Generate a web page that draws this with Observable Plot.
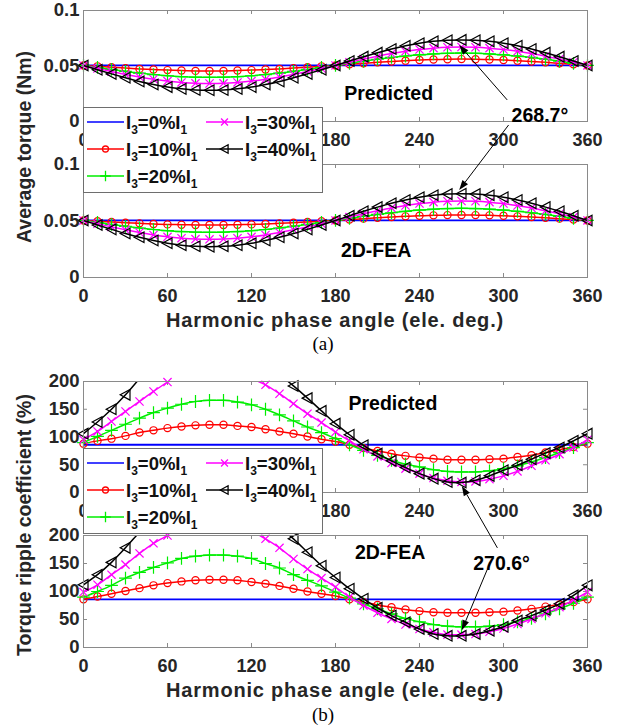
<!DOCTYPE html>
<html><head><meta charset="utf-8">
<script src="https://cdn.jsdelivr.net/npm/d3@7"></script>
<script src="https://cdn.jsdelivr.net/npm/@observablehq/plot@0.6"></script>
<style>
body{margin:0;background:#fff;}
#wrap{position:relative;width:618px;height:725px;overflow:hidden;font-family:"Liberation Sans",Arial,sans-serif;}
.abs{position:absolute;}
.xt{font-weight:bold;font-size:20px;letter-spacing:0.8px;color:#262626;white-space:nowrap;transform:translate(-50%,-50%);}
.yt{font-weight:bold;font-size:19.5px;color:#262626;white-space:nowrap;transform:translate(-50%,-50%) rotate(-90deg);}
.sub{font-family:"Liberation Serif","Times New Roman",serif;font-size:19px;color:#000;white-space:nowrap;transform:translate(-50%,-50%);}
</style></head><body><div id="wrap"></div>
<script>
// ---------- data ----------
const angles = [0,10,20,30,40,50,60,70,80,90,100,110,120,130,140,150,160,170,180,190,200,210,220,230,240,250,260,270,280,290,300,310,320,330,340,350,360];
const seriesPct = ["0","10","20","30","40"];
const xTicks = [0,60,120,180,240,300,360];
const xTicksUnderLegend = [60,120];
const torqueTicks = [0,0.05,0.1];
const torqueTickLabels = ["0","0.05","0.1"];
const rippleTicks = [0,50,100,150,200];
const rippleTickLabels = ["0","50","100","150","200"];

// average torque, predicted (Nm)
const torquePred0 = [0.0505,0.0505,0.0505,0.0505,0.0505,0.0505,0.0505,0.0505,0.0505,0.0505,0.0505,0.0505,0.0505,0.0505,0.0505,0.0505,0.0505,0.0505,0.0505,0.0505,0.0505,0.0505,0.0505,0.0505,0.0505,0.0505,0.0505,0.0505,0.0505,0.0505,0.0505,0.0505,0.0505,0.0505,0.0505,0.0505,0.0505];
const torquePred10 = [0.0505,0.0497,0.0489,0.0481,0.0474,0.0468,0.0463,0.0459,0.0456,0.0455,0.0456,0.0459,0.0463,0.0468,0.0474,0.0481,0.0489,0.0497,0.0505,0.0515,0.0524,0.0533,0.0541,0.0548,0.0554,0.0558,0.0561,0.0562,0.0561,0.0558,0.0554,0.0548,0.0541,0.0533,0.0524,0.0515,0.0505];
const torquePred20 = [0.0505,0.0487,0.0469,0.0452,0.0436,0.0423,0.0412,0.0404,0.0399,0.0398,0.0399,0.0404,0.0412,0.0423,0.0436,0.0452,0.0469,0.0487,0.0505,0.0524,0.0543,0.0561,0.0577,0.0590,0.0601,0.0609,0.0614,0.0616,0.0614,0.0609,0.0601,0.0590,0.0577,0.0561,0.0543,0.0524,0.0505];
const torquePred30 = [0.0505,0.0477,0.0450,0.0424,0.0401,0.0381,0.0364,0.0352,0.0344,0.0342,0.0344,0.0352,0.0364,0.0381,0.0401,0.0424,0.0450,0.0477,0.0505,0.0534,0.0562,0.0588,0.0612,0.0632,0.0649,0.0661,0.0669,0.0671,0.0669,0.0661,0.0649,0.0632,0.0612,0.0588,0.0562,0.0534,0.0505];
const torquePred40 = [0.0505,0.0466,0.0429,0.0394,0.0361,0.0333,0.0310,0.0294,0.0284,0.0281,0.0284,0.0294,0.0310,0.0333,0.0361,0.0394,0.0429,0.0466,0.0505,0.0545,0.0584,0.0620,0.0653,0.0682,0.0705,0.0722,0.0732,0.0735,0.0732,0.0722,0.0705,0.0682,0.0653,0.0620,0.0584,0.0545,0.0505];

// average torque, 2D-FEA (Nm)
const torqueFea0 = [0.0505,0.0505,0.0505,0.0505,0.0505,0.0505,0.0505,0.0505,0.0505,0.0505,0.0505,0.0505,0.0505,0.0505,0.0505,0.0505,0.0505,0.0505,0.0505,0.0505,0.0505,0.0505,0.0505,0.0505,0.0505,0.0505,0.0505,0.0505,0.0505,0.0505,0.0505,0.0505,0.0505,0.0505,0.0505,0.0505,0.0505];
const torqueFea10 = [0.0505,0.0498,0.0491,0.0485,0.0479,0.0474,0.0470,0.0467,0.0465,0.0465,0.0465,0.0467,0.0470,0.0474,0.0479,0.0485,0.0491,0.0498,0.0505,0.0513,0.0521,0.0528,0.0535,0.0541,0.0546,0.0550,0.0552,0.0553,0.0552,0.0550,0.0546,0.0541,0.0535,0.0528,0.0521,0.0513,0.0505];
const torqueFea20 = [0.0505,0.0487,0.0470,0.0453,0.0438,0.0425,0.0414,0.0406,0.0401,0.0400,0.0401,0.0406,0.0414,0.0425,0.0438,0.0453,0.0470,0.0487,0.0505,0.0523,0.0541,0.0558,0.0573,0.0586,0.0597,0.0605,0.0610,0.0612,0.0610,0.0605,0.0597,0.0586,0.0573,0.0558,0.0541,0.0523,0.0505];
const torqueFea30 = [0.0505,0.0476,0.0448,0.0422,0.0398,0.0377,0.0360,0.0348,0.0340,0.0338,0.0340,0.0348,0.0360,0.0377,0.0398,0.0422,0.0448,0.0476,0.0505,0.0535,0.0564,0.0591,0.0616,0.0637,0.0654,0.0667,0.0675,0.0677,0.0675,0.0667,0.0654,0.0637,0.0616,0.0591,0.0564,0.0535,0.0505];
const torqueFea40 = [0.0505,0.0465,0.0426,0.0389,0.0356,0.0327,0.0303,0.0286,0.0276,0.0273,0.0276,0.0286,0.0303,0.0327,0.0356,0.0389,0.0426,0.0465,0.0505,0.0546,0.0586,0.0623,0.0657,0.0686,0.0710,0.0728,0.0738,0.0741,0.0738,0.0728,0.0710,0.0686,0.0657,0.0623,0.0586,0.0546,0.0505];

// torque ripple coefficient, predicted (%)
const ripplePred0 = [86,86,86,86,86,86,86,86,86,86,86,86,86,86,86,86,86,86,86,86,86,86,86,86,86,86,86,86,86,86,86,86,86,86,86,86,86];
const ripplePred10 = [88,93,97,102,108,112,116,119,121,122,122,120,118,114,110,106,101,96,92,86,80,75,70,66,63,61,59,59,59,60,61,64,67,72,77,82,88];
const ripplePred20 = [90,101,112,123,134,144,152,159,164,166,166,163,158,150,140,129,118,108,97,86,76,67,58,51,46,41,38,37,37,39,43,48,55,63,72,81,90];
const ripplePred30 = [95,110,128,146,164,182,199,212,220,224,222,215,205,194,178,160,142,126,109,93,78,65,53,43,34,26,21,19,20,24,30,38,48,58,69,81,95];
const ripplePred40 = [106,127,150,176,205,232,255,272,282,285,282,272,255,235,213,192,170,147,124,104,85,70,57,45,34,25,19,18,22,30,40,49,60,71,81,93,106];

// torque ripple coefficient, 2D-FEA (%)
const rippleFea0 = [86,86,86,86,86,86,86,86,86,86,86,86,86,86,86,86,86,86,86,86,86,86,86,86,86,86,86,86,86,86,86,86,86,86,86,86,86];
const rippleFea10 = [86,91,96,101,106,111,115,118,120,121,121,120,117,114,110,105,100,96,92,86,81,76,72,68,65,63,62,62,62,63,64,66,69,73,77,81,86];
const rippleFea20 = [90,100,111,124,134,143,151,159,163,165,165,163,159,150,142,130,120,110,99,88,78,69,60,52,46,41,38,37,37,38,41,46,52,60,69,79,90];
const rippleFea30 = [99,112,130,148,168,186,200,214,223,227,225,218,208,194,178,158,140,124,108,90,75,62,51,41,33,27,23,23,24,28,34,42,51,61,72,85,99];
const rippleFea40 = [112,130,152,178,206,233,256,273,283,286,283,273,256,236,215,194,170,146,125,105,87,71,57,45,33,24,21,21,24,30,37,48,57,67,78,93,111];

// annotations (data coordinates)
const panelTexts = {
  p1: [{x: 218, y: 0.0250, t: "Predicted"}, {x: 326, y: 0.0053, t: "268.7°"}],
  p2: [{x: 209, y: 0.0240, t: "2D-FEA"}],
  p3: [{x: 221, y: 160, t: "Predicted"}],
  p4: [{x: 219, y: 169, t: "2D-FEA"}, {x: 298.6, y: 150, t: "270.6°"}]
};
const arrowsSpec = [
  {fp: "p1", fx: 303, fy: 0.019, tp: "p1", tx: 268.7, ty: 0.0685},
  {fp: "p1", fx: 304, fy: -0.0036, tp: "p2", tx: 268.7, ty: 0.0770},
  {fp: "p4", fx: 296, fy: 177, tp: "p3", tx: 270.6, ty: 11},
  {fp: "p4", fx: 288.6, fy: 137.5, tp: "p4", tx: 270.6, ty: 30}
];

// ---------- styles ----------
const colors = ["#0000ff", "#ff0000", "#00ee00", "#ff00ff", "#000000"];
const frameColor = "#8a8a8a";
const triLeft = {draw(ctx, size) { const r = Math.sqrt(size / Math.PI); ctx.moveTo(-r, 0); ctx.lineTo(r * 0.85, -r); ctx.lineTo(r * 0.85, r); ctx.closePath(); }};
const symbols = [null, "circle", "plus", "times", triLeft];
const radii = [0, 3.6, 4.2, 3.8, 5.3];

const wrap = document.getElementById("wrap");
const W = 618, mL = 83, mR = 31;

function makePanel(cfg) {
  const plotW = W - mL - mR;
  const plotH = cfg.height - cfg.mTop - cfg.mBottom;
  const marks = [];
  const innerX = xTicks.slice(1, -1);
  const innerY = cfg.yTicks.slice(1, -1);
  marks.push(Plot.ruleX(innerX, {x: d => d, insetTop: plotH - 4, stroke: frameColor}));
  marks.push(Plot.ruleX(innerX, {x: d => d, insetBottom: plotH - 4, stroke: frameColor}));
  marks.push(Plot.ruleY(innerY, {y: d => d, insetRight: plotW - 4, stroke: frameColor}));
  marks.push(Plot.ruleY(innerY, {y: d => d, insetLeft: plotW - 4, stroke: frameColor}));
  cfg.series.forEach((vals, k) => {
    const data = vals.map((v, i) => ({x: angles[i], y: v}));
    marks.push(Plot.line(data, {x: "x", y: "y", stroke: colors[k], strokeWidth: k === 0 ? 1.8 : 1.5, curve: "catmull-rom", clip: true}));
    if (symbols[k]) {
      marks.push(Plot.dot(data.filter(d => d.y <= cfg.yDomain[1]), {x: "x", y: "y", symbol: symbols[k], r: radii[k], stroke: colors[k], fill: "none", strokeWidth: 1.2}));
    }
  });
  marks.push(Plot.frame({stroke: frameColor, strokeWidth: 1}));
  const labelTicks = cfg.legendBelow ? xTicks.filter(t => !xTicksUnderLegend.includes(t)) : xTicks;
  marks.push(Plot.axisX({ticks: labelTicks, label: null, tickSize: 0, tickPadding: 12, tickFormat: d => String(d), fontSize: 18, fontWeight: "bold"}));
  marks.push(Plot.axisY({ticks: cfg.yTicks, label: null, tickSize: 0, tickPadding: 4, tickFormat: d => cfg.yLabels[cfg.yTicks.indexOf(d)], fontSize: 18.5, fontWeight: "bold"}));
  marks.push(Plot.text(cfg.texts, {x: "x", y: "y", text: "t", fontSize: 19.5, fontWeight: "bold", fill: "#000"}));
  const fig = Plot.plot({
    width: W, height: cfg.height,
    marginLeft: mL, marginRight: mR, marginTop: cfg.mTop, marginBottom: cfg.mBottom,
    x: {domain: [0, 360], label: null},
    y: {domain: cfg.yDomain, label: null},
    style: {background: "transparent", overflow: "visible", color: "#262626", fontFamily: "'Liberation Sans', Arial, sans-serif", fontSize: "18px", fontWeight: "bold"},
    marks
  });
  fig.style.position = "absolute";
  fig.style.left = "0px";
  fig.style.top = cfg.top + "px";
  wrap.appendChild(fig);
  return {fig, top: cfg.top, x: fig.scale("x"), y: fig.scale("y")};
}

const panels = {};
panels.p1 = makePanel({top: 0, height: 151, mTop: 10, mBottom: 30, yDomain: [0, 0.1], yTicks: torqueTicks, yLabels: torqueTickLabels, legendBelow: true,
  series: [torquePred0, torquePred10, torquePred20, torquePred30, torquePred40], texts: panelTexts.p1});
panels.p2 = makePanel({top: 150, height: 157, mTop: 14, mBottom: 30, yDomain: [0, 0.1], yTicks: torqueTicks, yLabels: torqueTickLabels,
  series: [torqueFea0, torqueFea10, torqueFea20, torqueFea30, torqueFea40], texts: panelTexts.p2});
panels.p3 = makePanel({top: 360, height: 162, mTop: 21, mBottom: 30, yDomain: [0, 200], yTicks: rippleTicks, yLabels: rippleTickLabels, legendBelow: true,
  series: [ripplePred0, ripplePred10, ripplePred20, ripplePred30, ripplePred40], texts: panelTexts.p3});
panels.p4 = makePanel({top: 521, height: 156, mTop: 14, mBottom: 30, yDomain: [0, 200], yTicks: rippleTicks, yLabels: rippleTickLabels,
  series: [rippleFea0, rippleFea10, rippleFea20, rippleFea30, rippleFea40], texts: panelTexts.p4});

// ---------- legends ----------
function addLegend(top) {
  const svg = d3.create("svg").attr("width", 241).attr("height", 87)
    .style("position", "absolute").style("left", "83px").style("top", top + "px");
  svg.append("rect").attr("x", 0.5).attr("y", 0.5).attr("width", 239).attr("height", 85)
    .attr("fill", "#fff").attr("stroke", "#6e6e6e");
  const slots = [[4, 15], [4, 42], [4, 69], [123, 15], [123, 42]];
  const lsym = [null, d3.symbolCircle, d3.symbolPlus, d3.symbolTimes, triLeft];
  const lr = [0, 3, 3.5, 3.2, 4.2];
  seriesPct.forEach((p, k) => {
    const [x0, y0] = slots[k];
    const g = svg.append("g").attr("transform", `translate(${x0},${y0})`);
    g.append("line").attr("x1", 0).attr("x2", 37).attr("y1", 0).attr("y2", 0).attr("stroke", colors[k]).attr("stroke-width", 1.6);
    if (lsym[k]) {
      g.append("path").attr("transform", "translate(18.5,0)")
        .attr("d", d3.symbol(lsym[k], Math.PI * lr[k] * lr[k])())
        .attr("fill", "none").attr("stroke", colors[k]).attr("stroke-width", 1.3);
    }
    const t = g.append("text").attr("x", 39).attr("y", 7)
      .attr("font-family", "'Liberation Sans', Arial, sans-serif").attr("font-weight", "bold").attr("font-size", 18.5).attr("fill", "#111");
    t.append("tspan").text("I");
    t.append("tspan").attr("dy", 5).attr("font-size", 12).text("3");
    t.append("tspan").attr("dy", -5).text("=" + p + "%I");
    t.append("tspan").attr("dy", 5).attr("font-size", 12).text("1");
  });
  wrap.appendChild(svg.node());
}
addLegend(107);
addLegend(448);

// ---------- arrows ----------
const ov = d3.create("svg").attr("width", 618).attr("height", 725)
  .style("position", "absolute").style("left", "0px").style("top", "0px").style("pointer-events", "none");
arrowsSpec.forEach(a => {
  const pf = panels[a.fp], pt = panels[a.tp];
  const x1 = pf.x.apply(a.fx), y1 = pf.top + pf.y.apply(a.fy);
  const x2 = pt.x.apply(a.tx), y2 = pt.top + pt.y.apply(a.ty);
  const ang = Math.atan2(y2 - y1, x2 - x1);
  const L = 10, Hw = 3.5;
  const bx = x2 - L * Math.cos(ang), by = y2 - L * Math.sin(ang);
  ov.append("line").attr("x1", x1).attr("y1", y1).attr("x2", bx).attr("y2", by).attr("stroke", "#000").attr("stroke-width", 1);
  const px = -Math.sin(ang), py = Math.cos(ang);
  ov.append("path").attr("d", `M${x2},${y2}L${bx + Hw * px},${by + Hw * py}L${bx - Hw * px},${by - Hw * py}Z`).attr("fill", "#000");
});
wrap.appendChild(ov.node());

// ---------- titles ----------
function addText(cls, txt, x, y) {
  const d = document.createElement("div");
  d.className = "abs " + cls;
  d.textContent = txt;
  d.style.left = x + "px";
  d.style.top = y + "px";
  wrap.appendChild(d);
}
addText("yt", "Average torque (Nm)", 24, 147);
addText("xt", "Harmonic phase angle (ele. deg.)", 335, 320);
addText("sub", "(a)", 323, 344);
addText("yt", "Torque ripple coefficient (%)", 24, 525);
addText("xt", "Harmonic phase angle (ele. deg.)", 335, 690);
addText("sub", "(b)", 323, 715);
</script></body></html>
